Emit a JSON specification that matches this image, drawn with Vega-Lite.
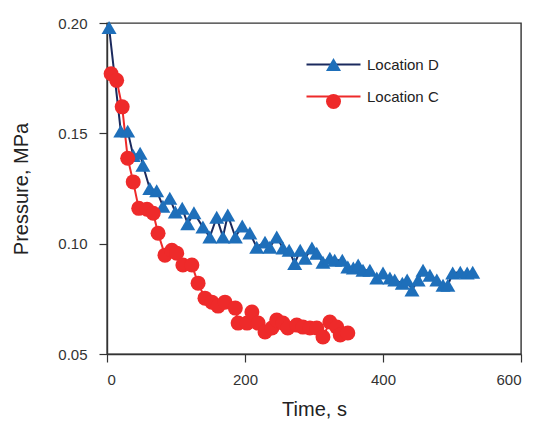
{
  "$schema": "https://vega.github.io/schema/vega-lite/v6.json",
  "width": 414,
  "height": 331,
  "autosize": {"type": "none"},
  "padding": {"left": 107, "top": 23, "right": 21, "bottom": 70},
  "background": "white",
  "config": {
    "view": {"stroke": "#333", "strokeWidth": 1.4},
    "font": "Liberation Sans",
    "axis": {
      "grid": false,
      "domainColor": "#333",
      "domainWidth": 1.4,
      "tickColor": "#333",
      "tickWidth": 1.2,
      "tickSize": 8,
      "labelFont": "Liberation Sans",
      "labelFontSize": 15,
      "labelColor": "#333",
      "titleFont": "Liberation Sans",
      "titleFontSize": 20,
      "titleFontWeight": "normal",
      "titleColor": "#222"
    }
  },
  "data": {
    "values": [
      {"Location": "Location D", "t": 3, "p": 0.198},
      {"Location": "Location D", "t": 20, "p": 0.151},
      {"Location": "Location D", "t": 30, "p": 0.151},
      {"Location": "Location D", "t": 38, "p": 0.140},
      {"Location": "Location D", "t": 48, "p": 0.141},
      {"Location": "Location D", "t": 52, "p": 0.1355},
      {"Location": "Location D", "t": 62, "p": 0.125},
      {"Location": "Location D", "t": 72, "p": 0.124},
      {"Location": "Location D", "t": 81, "p": 0.117},
      {"Location": "Location D", "t": 91, "p": 0.1206},
      {"Location": "Location D", "t": 99, "p": 0.1143},
      {"Location": "Location D", "t": 109, "p": 0.116},
      {"Location": "Location D", "t": 117, "p": 0.109},
      {"Location": "Location D", "t": 126, "p": 0.114},
      {"Location": "Location D", "t": 139, "p": 0.1075},
      {"Location": "Location D", "t": 149, "p": 0.103},
      {"Location": "Location D", "t": 159, "p": 0.112},
      {"Location": "Location D", "t": 168, "p": 0.103},
      {"Location": "Location D", "t": 175, "p": 0.113},
      {"Location": "Location D", "t": 186, "p": 0.103},
      {"Location": "Location D", "t": 196, "p": 0.108},
      {"Location": "Location D", "t": 207, "p": 0.1048},
      {"Location": "Location D", "t": 217, "p": 0.0984},
      {"Location": "Location D", "t": 229, "p": 0.1007},
      {"Location": "Location D", "t": 236, "p": 0.0984},
      {"Location": "Location D", "t": 246, "p": 0.103},
      {"Location": "Location D", "t": 255, "p": 0.098},
      {"Location": "Location D", "t": 264, "p": 0.097},
      {"Location": "Location D", "t": 272, "p": 0.091},
      {"Location": "Location D", "t": 280, "p": 0.097},
      {"Location": "Location D", "t": 287, "p": 0.0934},
      {"Location": "Location D", "t": 297, "p": 0.098},
      {"Location": "Location D", "t": 304, "p": 0.0957},
      {"Location": "Location D", "t": 313, "p": 0.0916},
      {"Location": "Location D", "t": 323, "p": 0.0934},
      {"Location": "Location D", "t": 330, "p": 0.0925},
      {"Location": "Location D", "t": 341, "p": 0.0925},
      {"Location": "Location D", "t": 349, "p": 0.0894},
      {"Location": "Location D", "t": 357, "p": 0.089},
      {"Location": "Location D", "t": 364, "p": 0.0903},
      {"Location": "Location D", "t": 371, "p": 0.088},
      {"Location": "Location D", "t": 381, "p": 0.088},
      {"Location": "Location D", "t": 391, "p": 0.0844},
      {"Location": "Location D", "t": 400, "p": 0.0867},
      {"Location": "Location D", "t": 410, "p": 0.0844},
      {"Location": "Location D", "t": 417, "p": 0.0835},
      {"Location": "Location D", "t": 428, "p": 0.0821},
      {"Location": "Location D", "t": 435, "p": 0.0835},
      {"Location": "Location D", "t": 442, "p": 0.079},
      {"Location": "Location D", "t": 451, "p": 0.0835},
      {"Location": "Location D", "t": 458, "p": 0.088},
      {"Location": "Location D", "t": 468, "p": 0.0857},
      {"Location": "Location D", "t": 478, "p": 0.0835},
      {"Location": "Location D", "t": 487, "p": 0.0812},
      {"Location": "Location D", "t": 494, "p": 0.0812},
      {"Location": "Location D", "t": 501, "p": 0.0867},
      {"Location": "Location D", "t": 512, "p": 0.087},
      {"Location": "Location D", "t": 522, "p": 0.0867},
      {"Location": "Location D", "t": 530, "p": 0.087},
      {"Location": "Location C", "t": 6, "p": 0.177},
      {"Location": "Location C", "t": 14, "p": 0.174},
      {"Location": "Location C", "t": 22, "p": 0.162},
      {"Location": "Location C", "t": 30, "p": 0.1387},
      {"Location": "Location C", "t": 38, "p": 0.128},
      {"Location": "Location C", "t": 46, "p": 0.116},
      {"Location": "Location C", "t": 58, "p": 0.1156},
      {"Location": "Location C", "t": 67, "p": 0.1138},
      {"Location": "Location C", "t": 74, "p": 0.1047},
      {"Location": "Location C", "t": 84, "p": 0.0948},
      {"Location": "Location C", "t": 94, "p": 0.097},
      {"Location": "Location C", "t": 101, "p": 0.0957},
      {"Location": "Location C", "t": 110, "p": 0.0903},
      {"Location": "Location C", "t": 123, "p": 0.0903},
      {"Location": "Location C", "t": 132, "p": 0.0821},
      {"Location": "Location C", "t": 142, "p": 0.0753},
      {"Location": "Location C", "t": 152, "p": 0.0735},
      {"Location": "Location C", "t": 161, "p": 0.0717},
      {"Location": "Location C", "t": 171, "p": 0.0735},
      {"Location": "Location C", "t": 186, "p": 0.0708},
      {"Location": "Location C", "t": 190, "p": 0.064},
      {"Location": "Location C", "t": 203, "p": 0.064},
      {"Location": "Location C", "t": 210, "p": 0.069},
      {"Location": "Location C", "t": 219, "p": 0.064},
      {"Location": "Location C", "t": 229, "p": 0.060},
      {"Location": "Location C", "t": 239, "p": 0.0618},
      {"Location": "Location C", "t": 246, "p": 0.0654},
      {"Location": "Location C", "t": 255, "p": 0.064},
      {"Location": "Location C", "t": 262, "p": 0.0618},
      {"Location": "Location C", "t": 275, "p": 0.0631},
      {"Location": "Location C", "t": 284, "p": 0.0622},
      {"Location": "Location C", "t": 294, "p": 0.0618},
      {"Location": "Location C", "t": 304, "p": 0.0618},
      {"Location": "Location C", "t": 313, "p": 0.0577},
      {"Location": "Location C", "t": 323, "p": 0.0645},
      {"Location": "Location C", "t": 333, "p": 0.0622},
      {"Location": "Location C", "t": 338, "p": 0.0586},
      {"Location": "Location C", "t": 349, "p": 0.0595}
    ]
  },
  "encoding": {
    "x": {
      "field": "t", "type": "quantitative", "title": "Time, s",
      "scale": {"domain": [0, 600], "nice": false, "zero": false},
      "axis": {"values": [0, 200, 400, 600], "labelPadding": 10, "titlePadding": 12}
    },
    "y": {
      "field": "p", "type": "quantitative", "title": "Pressure, MPa",
      "scale": {"domain": [0.05, 0.2], "nice": false, "zero": false},
      "axis": {"values": [0.05, 0.1, 0.15, 0.2], "format": ".2f", "labelPadding": 12, "titlePadding": 26}
    }
  },
  "layer": [
    {
      "mark": {"type": "line", "strokeWidth": 2},
      "encoding": {
        "stroke": {
          "field": "Location", "type": "nominal", "sort": ["Location D", "Location C"],
          "scale": {"range": ["#1b2a5e", "#ee2a2a"]},
          "legend": {
            "orient": "none", "legendX": 212, "legendY": 27, "title": null,
            "symbolType": "M-2,0H2", "symbolSize": 729, "symbolStrokeWidth": 2,
            "labelFont": "Liberation Sans", "labelFontSize": 15, "labelColor": "#222",
            "labelOffset": 19, "rowPadding": 9, "padding": 0
          }
        }
      }
    },
    {
      "mark": {"type": "point", "filled": true, "opacity": 1, "size": 225},
      "encoding": {
        "color": {
          "field": "Location", "type": "nominal",
          "scale": {"domain": ["Location D", "Location C"], "range": ["#1e6fba", "#ee2a2a"]},
          "legend": {
            "orient": "none", "legendX": 218, "legendY": 33, "title": null,
            "symbolSize": 225, "labelExpr": "''", "rowPadding": 22, "padding": 0
          }
        },
        "shape": {
          "field": "Location", "type": "nominal",
          "scale": {"domain": ["Location D", "Location C"], "range": ["triangle-up", "circle"]},
          "legend": {
            "orient": "none", "legendX": 218, "legendY": 33, "title": null,
            "symbolSize": 225, "labelExpr": "''", "rowPadding": 22, "padding": 0
          }
        }
      }
    }
  ]
}
